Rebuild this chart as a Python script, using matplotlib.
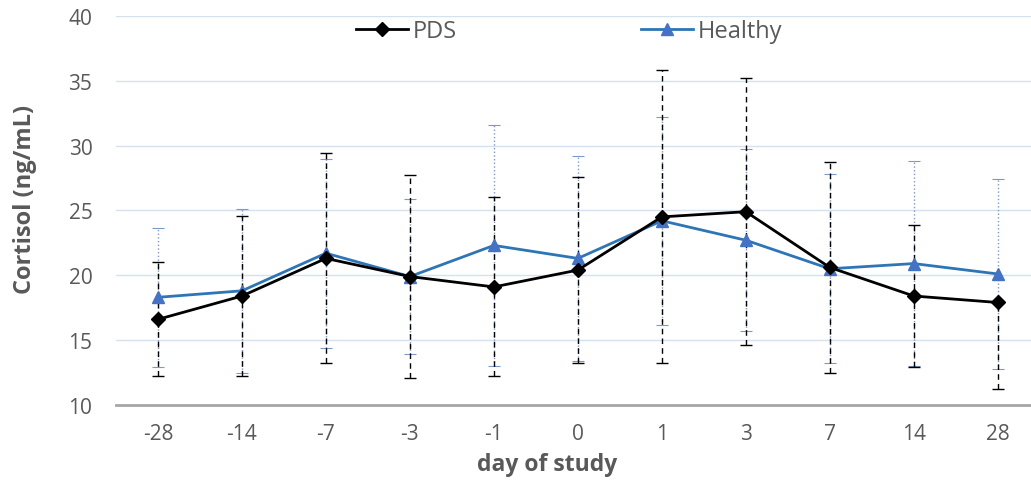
import matplotlib
matplotlib.use("Agg")
import matplotlib.pyplot as plt
import numpy as np

# values
days = ["-28", "-14", "-7", "-3", "-1", "0", "1", "3", "7", "14", "28"]
pds_mean = [16.6, 18.4, 21.3, 19.9, 19.1, 20.4, 24.5, 24.9, 20.6, 18.4, 17.9]
pds_err_low = [4.4, 6.2, 8.1, 7.8, 6.9, 7.2, 11.3, 10.3, 8.1, 5.5, 6.7]
pds_err_high = [4.4, 6.2, 8.1, 7.8, 6.9, 7.2, 11.3, 10.3, 8.1, 5.5, 0.0]
healthy_mean = [18.3, 18.8, 21.7, 19.9, 22.3, 21.3, 24.2, 22.7, 20.5, 20.9, 20.1]
healthy_err = [5.35, 6.3, 7.3, 6.0, 9.3, 7.9, 8.0, 7.0, 7.3, 7.9, 7.35]

grey = "#595959"
blue_line = "#2E75B6"
blue_mark = "#4472C4"

plt.rcParams["font.family"] = ["Open Sans", "DejaVu Sans"]

fig = plt.figure(figsize=(10.31, 4.81), dpi=100)
ax = fig.add_axes([0.1125, 0.156, 0.896, 0.809])

x = np.arange(len(days))

# error bars first so the lines sit on top
eb = ax.errorbar(x, healthy_mean, yerr=healthy_err, fmt="none", ecolor="#7d98c4",
                 elinewidth=1.0, capsize=4, capthick=0.8, zorder=2)
eb[2][0].set_linestyle(":")
eb = ax.errorbar(x, pds_mean, yerr=[pds_err_low, pds_err_high], fmt="none", ecolor="black",
                 elinewidth=1.0, capsize=4, capthick=1.0, zorder=2)
eb[2][0].set_linestyle((0, (4, 3)))

ax.plot(x, pds_mean, color="black", lw=2, marker="D", markersize=7, label="PDS", zorder=4)
ax.plot(x, healthy_mean, color=blue_line, lw=2, marker="^", markersize=9,
        markerfacecolor=blue_mark, markeredgecolor=blue_mark, label="Healthy", zorder=3)

ax.set_xlim(-0.5, len(days) - 0.5)
ax.set_ylim(10, 40)
ax.set_yticks(range(10, 41, 5))
ax.set_xticks(x)
ax.set_xticklabels(days)
ax.yaxis.grid(True, color="#d6e1ee", lw=1)
ax.set_axisbelow(True)
for s in ["top", "right", "left"]:
    ax.spines[s].set_visible(False)
ax.spines["bottom"].set_color("#a6a6a6")
ax.spines["bottom"].set_linewidth(2)
ax.tick_params(axis="both", length=0, labelsize=15, colors=grey)
ax.tick_params(axis="x", pad=13)
ax.tick_params(axis="y", pad=17)

ax.set_xlabel("day of study", fontsize=16.5, fontweight="bold", color=grey)
ax.xaxis.set_label_coords(0.4665, -0.122)
ax.set_ylabel("Cortisol (ng/mL)", fontsize=17, fontweight="bold", color=grey)
ax.yaxis.set_label_coords(-0.086, 0.532)

fig.legend(loc="center", bbox_to_anchor=(0.552, 0.933), ncol=2, frameon=False,
           fontsize=17, handlelength=2.2, columnspacing=7.8, handletextpad=0.2,
           labelcolor=grey)

fig.savefig("out.png", dpi=100)
